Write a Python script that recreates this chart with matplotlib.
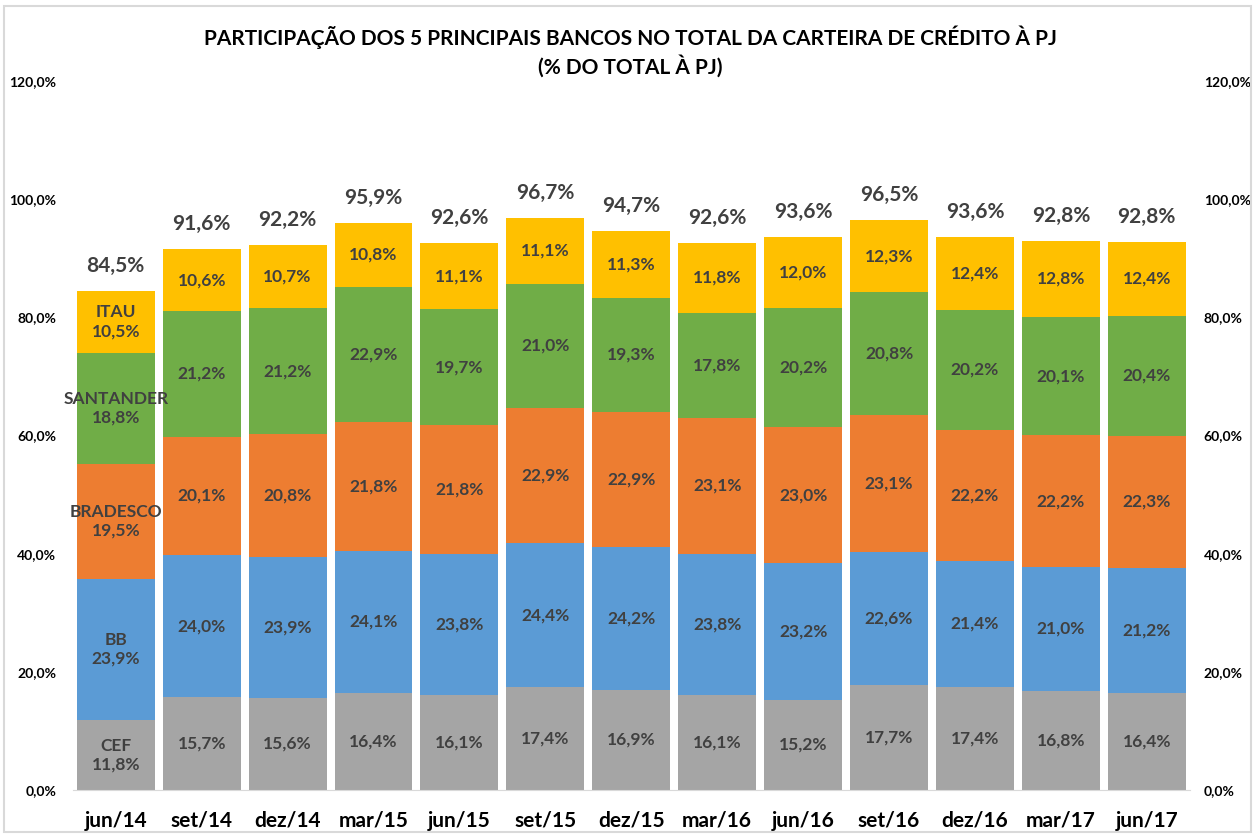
import numpy as np
import matplotlib
matplotlib.use("Agg")
import matplotlib.pyplot as plt

plt.rcParams['font.family'] = ['Lato', 'DejaVu Sans']

periods = ['jun/14', 'set/14', 'dez/14', 'mar/15', 'jun/15', 'set/15', 'dez/15',
           'mar/16', 'jun/16', 'set/16', 'dez/16', 'mar/17', 'jun/17']
cef = [11.8, 15.7, 15.6, 16.4, 16.1, 17.4, 16.9, 16.1, 15.2, 17.7, 17.4, 16.8, 16.4]
bb = [23.9, 24.0, 23.9, 24.1, 23.8, 24.4, 24.2, 23.8, 23.2, 22.6, 21.4, 21.0, 21.2]
bradesco = [19.5, 20.1, 20.8, 21.8, 21.8, 22.9, 22.9, 23.1, 23.0, 23.1, 22.2, 22.2, 22.3]
santander = [18.8, 21.2, 21.2, 22.9, 19.7, 21.0, 19.3, 17.8, 20.2, 20.8, 20.2, 20.1, 20.4]
itau = [10.5, 10.6, 10.7, 10.8, 11.1, 11.1, 11.3, 11.8, 12.0, 12.3, 12.4, 12.8, 12.4]
totals = [84.5, 91.6, 92.2, 95.9, 92.6, 96.7, 94.7, 92.6, 93.6, 96.5, 93.6, 92.8, 92.8]

banks = ['CEF', 'BB', 'BRADESCO', 'SANTANDER', 'ITAU']
series = [cef, bb, bradesco, santander, itau]
colors = ['#A5A5A5', '#5B9BD5', '#ED7D31', '#70AD47', '#FFC000']


def pct(v):
    return f"{v:.1f}%".replace('.', ',')


fig = plt.figure(figsize=(12.55, 8.35), dpi=100)
ax = fig.add_axes([0.058, 0.054, 0.890, 0.849])

x = np.arange(len(periods))
bottom = np.zeros(len(periods))
for name, vals, col in zip(banks, series, colors):
    vals = np.array(vals)
    ax.bar(x, vals, width=0.907, bottom=bottom, color=col, zorder=2)
    for i, v in enumerate(vals):
        txt = pct(v)
        if i == 0:
            txt = name + "\n" + txt  # first bar carries the bank names
        ax.text(x[i], bottom[i] + v / 2, txt, ha='center', va='center',
                fontsize=12.5, fontweight='bold', color='#404040',
                linespacing=1.2, zorder=3)
    bottom += vals

for i, t in enumerate(totals):
    ax.annotate(pct(t), (x[i], bottom[i]), xytext=(0, 18), textcoords='offset points',
                ha='center', va='center', fontsize=15, fontweight='bold', color='#404040')

ax.set_xlim(-0.5, len(periods) - 0.5)
ax.set_ylim(0, 120)
yt = np.arange(0, 121, 20)
ax.set_yticks(yt)
ax.set_yticklabels([pct(v) for v in yt], fontsize=10, fontweight='bold')
ax.set_xticks(x)
ax.set_xticklabels(periods, fontsize=15, fontweight='bold')
ax.tick_params(axis='x', length=0, pad=15)
ax.tick_params(axis='y', length=0, pad=12)
for s in ['left', 'right', 'top']:
    ax.spines[s].set_visible(False)
ax.spines['bottom'].set_color('#D9D9D9')

ax2 = ax.twinx()
ax2.set_ylim(0, 120)
ax2.set_yticks(yt)
ax2.set_yticklabels([pct(v) for v in yt], fontsize=10, fontweight='bold')
ax2.tick_params(axis='y', length=0, pad=10)
for s in ['left', 'right', 'top', 'bottom']:
    ax2.spines[s].set_visible(False)

fig.text(0.502, 0.955, 'PARTICIPAÇÃO DOS 5 PRINCIPAIS BANCOS NO TOTAL DA CARTEIRA DE CRÉDITO À PJ',
         ha='center', va='center', fontsize=15, fontweight='bold')
fig.text(0.502, 0.921, '(% DO TOTAL À PJ)', ha='center', va='center',
         fontsize=15, fontweight='bold')

fig.patches.append(plt.Rectangle((0.003, 0.003), 0.994, 0.990, transform=fig.transFigure,
                                 fill=False, edgecolor='#D9D9D9', linewidth=1.5))

fig.savefig('out.png', dpi=100)
